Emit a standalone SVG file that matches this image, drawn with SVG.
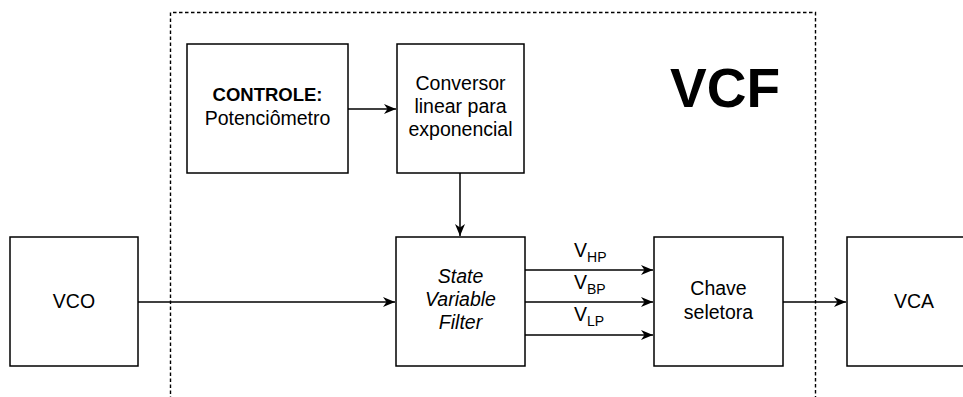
<svg xmlns="http://www.w3.org/2000/svg" width="963" height="397" viewBox="0 0 963 397">
<style>
.box{fill:#fff;stroke:#000;stroke-width:1.5}
.t{font-family:"Liberation Sans",Arial,sans-serif;font-size:19.5px;fill:#000;text-anchor:middle}
.b{font-weight:bold;font-size:18.5px}
.i{font-style:italic}
.edge{stroke:#000;stroke-width:1.5;fill:none}
.lab{font-family:"Liberation Sans",Arial,sans-serif;font-size:19.5px;fill:#000}
.sub{font-size:14px}
</style>
<defs>
<marker id="arr" markerUnits="userSpaceOnUse" markerWidth="13" markerHeight="11" refX="12" refY="5" orient="auto">
<path d="M0,0 L12,5 L0,10 L3.5,5 z" fill="#000"/>
</marker>
</defs>
<rect x="0" y="0" width="963" height="397" fill="#fff"/>
<g id="frame">
<path d="M170.5,400 L170.5,12.5 L815.5,12.5 L815.5,400" fill="none" stroke="#000" stroke-width="1.4" stroke-dasharray="3.5 2.5"/>
<text x="670" y="107" font-family="'Liberation Sans',Arial,sans-serif" font-size="55" font-weight="bold" fill="#000">VCF</text>
</g>
<g id="controle">
<rect class="box" x="187" y="44" width="161" height="129"/>
<text class="t b" x="267.5" y="101">CONTROLE:</text>
<text class="t" x="267.5" y="125">Potenciômetro</text>
</g>
<g id="conversor">
<rect class="box" x="397" y="44" width="127" height="129"/>
<text class="t" x="460.5" y="90">Conversor</text>
<text class="t" x="460.5" y="113">linear para</text>
<text class="t" x="460.5" y="136">exponencial</text>
</g>
<g id="vco">
<rect class="box" x="10" y="237" width="128" height="129"/>
<text class="t" x="74" y="308">VCO</text>
</g>
<g id="svf">
<rect class="box" x="396" y="237" width="129" height="129"/>
<text class="t i" x="460.5" y="283">State</text>
<text class="t i" x="460.5" y="306">Variable</text>
<text class="t i" x="460.5" y="329">Filter</text>
</g>
<g id="chave">
<rect class="box" x="654" y="237" width="129" height="129"/>
<text class="t" x="718.5" y="295">Chave</text>
<text class="t" x="718.5" y="319">seletora</text>
</g>
<g id="vca">
<rect class="box" x="847" y="237" width="130" height="129"/>
<text class="t" x="914" y="308">VCA</text>
</g>
<g id="connectors">
<line class="edge" x1="348" y1="109" x2="396" y2="109" marker-end="url(#arr)"/>
<line class="edge" x1="460" y1="173" x2="460" y2="236" marker-end="url(#arr)"/>
<line class="edge" x1="138" y1="302" x2="395" y2="302" marker-end="url(#arr)"/>
<line class="edge" x1="525" y1="270" x2="653" y2="270" marker-end="url(#arr)"/>
<line class="edge" x1="525" y1="302" x2="653" y2="302" marker-end="url(#arr)"/>
<line class="edge" x1="525" y1="335" x2="653" y2="335" marker-end="url(#arr)"/>
<line class="edge" x1="783" y1="302" x2="846" y2="302" marker-end="url(#arr)"/>
<text class="lab" x="574" y="257">V<tspan class="sub" dy="5">HP</tspan></text>
<text class="lab" x="574" y="289">V<tspan class="sub" dy="5">BP</tspan></text>
<text class="lab" x="574" y="321">V<tspan class="sub" dy="5">LP</tspan></text>
</g>
</svg>
